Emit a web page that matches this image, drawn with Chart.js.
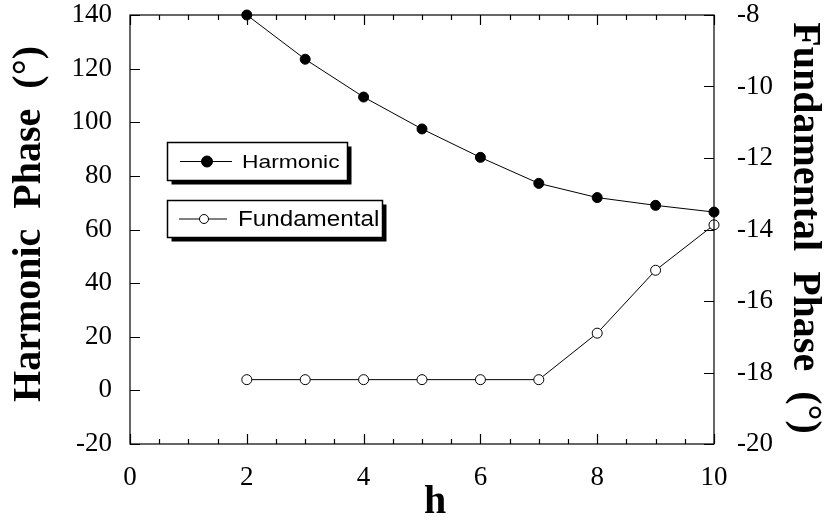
<!DOCTYPE html>
<html>
<head>
<meta charset="utf-8">
<script src="https://cdn.jsdelivr.net/npm/chart.js@4.4.1/dist/chart.umd.min.js"></script>
<style>
  html, body { margin: 0; padding: 0; background: #ffffff; }
  #wrap { width: 830px; height: 521px; position: relative; }
</style>
</head>
<body>
<div id="wrap"><canvas id="c" width="830" height="521"></canvas></div>
<script>
// Harmonic order
const harmonicOrders = [2, 3, 4, 5, 6, 7, 8, 9, 10];
// Phase of the harmonic component (left axis, degrees)
const harmonicPhase = [140, 123.5, 109.4, 97.5, 86.9, 77.2, 71.9, 69.0, 66.5];
// Phase of the fundamental component (right axis, degrees)
const fundamentalPhase = [-18.2, -18.2, -18.2, -18.2, -18.2, -18.2, -16.9, -15.14, -13.87];

// Tick labels
const xTickValues = [0, 2, 4, 6, 8, 10];
const leftTickValues = [-20, 0, 20, 40, 60, 80, 100, 120, 140];
const rightTickValues = [-20, -18, -16, -14, -12, -10, -8];

const seriesNames = ['Harmonic', 'Fundamental'];
const axisTitles = { x: 'h', left: 'Harmonic  Phase  (°)', right: 'Fundamental  Phase  (°)' };

const serif = "'Liberation Serif', 'Times New Roman', serif";
const sans = "'Liberation Sans', Arial, sans-serif";

function toPoints(xs, ys) { return xs.map((x, i) => ({ x: x, y: ys[i] })); }
function fixedTicks(values) {
  return function (scale) { scale.ticks = values.map(v => ({ value: v })); };
}
function fitBox(w, h) {
  return function (s) {
    if (w !== null) s.width = w;
    if (h !== null) s.height = h;
    s.paddingTop = 0; s.paddingBottom = 0; s.paddingLeft = 0; s.paddingRight = 0;
  };
}

// Frame, inward tick marks, axis titles and boxed legend
const decorations = {
  id: 'decorations',
  afterDraw(chart) {
    const { ctx, chartArea: a, scales } = chart;
    const xs = scales.x, yl = scales.y, yr = scales.y2;
    ctx.save();
    ctx.strokeStyle = '#000';
    ctx.lineWidth = 1.2;
    ctx.strokeRect(a.left, a.top, a.right - a.left, a.bottom - a.top);

    ctx.beginPath();
    for (let v = 0; v <= 10.001; v += 0.5) {
      const px = Math.round(xs.getPixelForValue(v)) + 0.5;
      const len = (Math.abs(v % 2) < 1e-6) ? 10 : 5;
      ctx.moveTo(px, a.bottom); ctx.lineTo(px, a.bottom - len);
      ctx.moveTo(px, a.top); ctx.lineTo(px, a.top + len);
    }
    leftTickValues.forEach(v => {
      const py = Math.round(yl.getPixelForValue(v)) + 0.5;
      ctx.moveTo(a.left, py); ctx.lineTo(a.left + 10, py);
    });
    rightTickValues.forEach(v => {
      const py = Math.round(yr.getPixelForValue(v)) + 0.5;
      ctx.moveTo(a.right, py); ctx.lineTo(a.right - 10, py);
    });
    ctx.stroke();

    // axis titles
    ctx.fillStyle = '#000';
    ctx.font = "bold 40px " + serif;
    ctx.textBaseline = 'alphabetic';
    ctx.textAlign = 'center';
    ctx.fillText(axisTitles.x, 435, 513);

    ctx.save();
    ctx.translate(40, 224);
    ctx.rotate(-Math.PI / 2);
    ctx.fillText(axisTitles.left, 0, 0);
    ctx.restore();

    ctx.save();
    ctx.translate(794, 228);
    ctx.rotate(Math.PI / 2);
    ctx.fillText(axisTitles.right, 0, 0);
    ctx.restore();

    // legend boxes
    const boxes = [
      { x: 167.5, y: 142.5, w: 180, h: 38, filled: true, r: 5.5, lx0: 180, lx1: 232, mx: 207, tx: 242, size: 19, sx: 1.2, name: seriesNames[0] },
      { x: 167.5, y: 200.5, w: 215, h: 37, filled: false, r: 4.5, lx0: 179, lx1: 227, mx: 204, tx: 238, size: 22, sx: 1.1, name: seriesNames[1] }
    ];
    boxes.forEach(b => {
      ctx.fillStyle = '#000';
      ctx.fillRect(b.x + 4, b.y + 4, b.w, b.h);
      ctx.fillStyle = '#fff';
      ctx.fillRect(b.x, b.y, b.w, b.h);
      ctx.strokeStyle = '#000';
      ctx.lineWidth = 1.5;
      ctx.strokeRect(b.x, b.y, b.w, b.h);
      const cy = b.y + b.h / 2;
      ctx.lineWidth = 1;
      ctx.beginPath();
      ctx.moveTo(b.lx0, cy); ctx.lineTo(b.lx1, cy);
      ctx.stroke();
      ctx.beginPath();
      ctx.arc(b.mx, cy, b.r, 0, Math.PI * 2);
      ctx.fillStyle = b.filled ? '#000' : '#fff';
      ctx.fill();
      ctx.stroke();
      ctx.save();
      ctx.fillStyle = '#000';
      ctx.font = b.size + 'px ' + sans;
      ctx.textAlign = 'left';
      ctx.textBaseline = 'middle';
      ctx.translate(b.tx, cy + 1);
      ctx.scale(b.sx, 1);
      ctx.fillText(b.name, 0, 0);
      ctx.restore();
    });
    ctx.restore();
  }
};

new Chart(document.getElementById('c'), {
  type: 'line',
  data: {
    datasets: [
      {
        label: seriesNames[0],
        data: toPoints(harmonicOrders, harmonicPhase),
        yAxisID: 'y',
        borderColor: '#000',
        borderWidth: 1,
        pointRadius: 5,
        pointBackgroundColor: '#000',
        pointBorderColor: '#000',
        pointBorderWidth: 1,
        tension: 0,
        clip: false
      },
      {
        label: seriesNames[1],
        data: toPoints(harmonicOrders, fundamentalPhase),
        yAxisID: 'y2',
        borderColor: '#000',
        borderWidth: 1,
        pointRadius: 5,
        pointBackgroundColor: '#fff',
        pointBorderColor: '#000',
        pointBorderWidth: 1,
        tension: 0,
        clip: false
      }
    ]
  },
  options: {
    responsive: false,
    animation: false,
    devicePixelRatio: 1,
    layout: { padding: { top: 15, left: 0, right: 0, bottom: 0 } },
    plugins: { legend: { display: false }, tooltip: { enabled: false } },
    scales: {
      x: {
        type: 'linear', min: 0, max: 10,
        afterBuildTicks: fixedTicks(xTickValues),
        afterFit: fitBox(null, 77),
        grid: { display: false, drawTicks: false },
        border: { display: false },
        ticks: { autoSkip: false, maxRotation: 0, padding: 18, color: '#000', font: { family: serif, size: 27 } }
      },
      y: {
        type: 'linear', position: 'left', min: -20, max: 140,
        afterBuildTicks: fixedTicks(leftTickValues),
        afterFit: fitBox(130, null),
        grid: { display: false, drawTicks: false },
        border: { display: false },
        ticks: { autoSkip: false, padding: 18, color: '#000', font: { family: serif, size: 27 } }
      },
      y2: {
        type: 'linear', position: 'right', min: -20, max: -8,
        afterBuildTicks: fixedTicks(rightTickValues),
        afterFit: fitBox(116, null),
        grid: { display: false, drawTicks: false },
        border: { display: false },
        ticks: { autoSkip: false, padding: 23, color: '#000', font: { family: serif, size: 27 } }
      }
    }
  },
  plugins: [decorations]
});
</script>
</body>
</html>
